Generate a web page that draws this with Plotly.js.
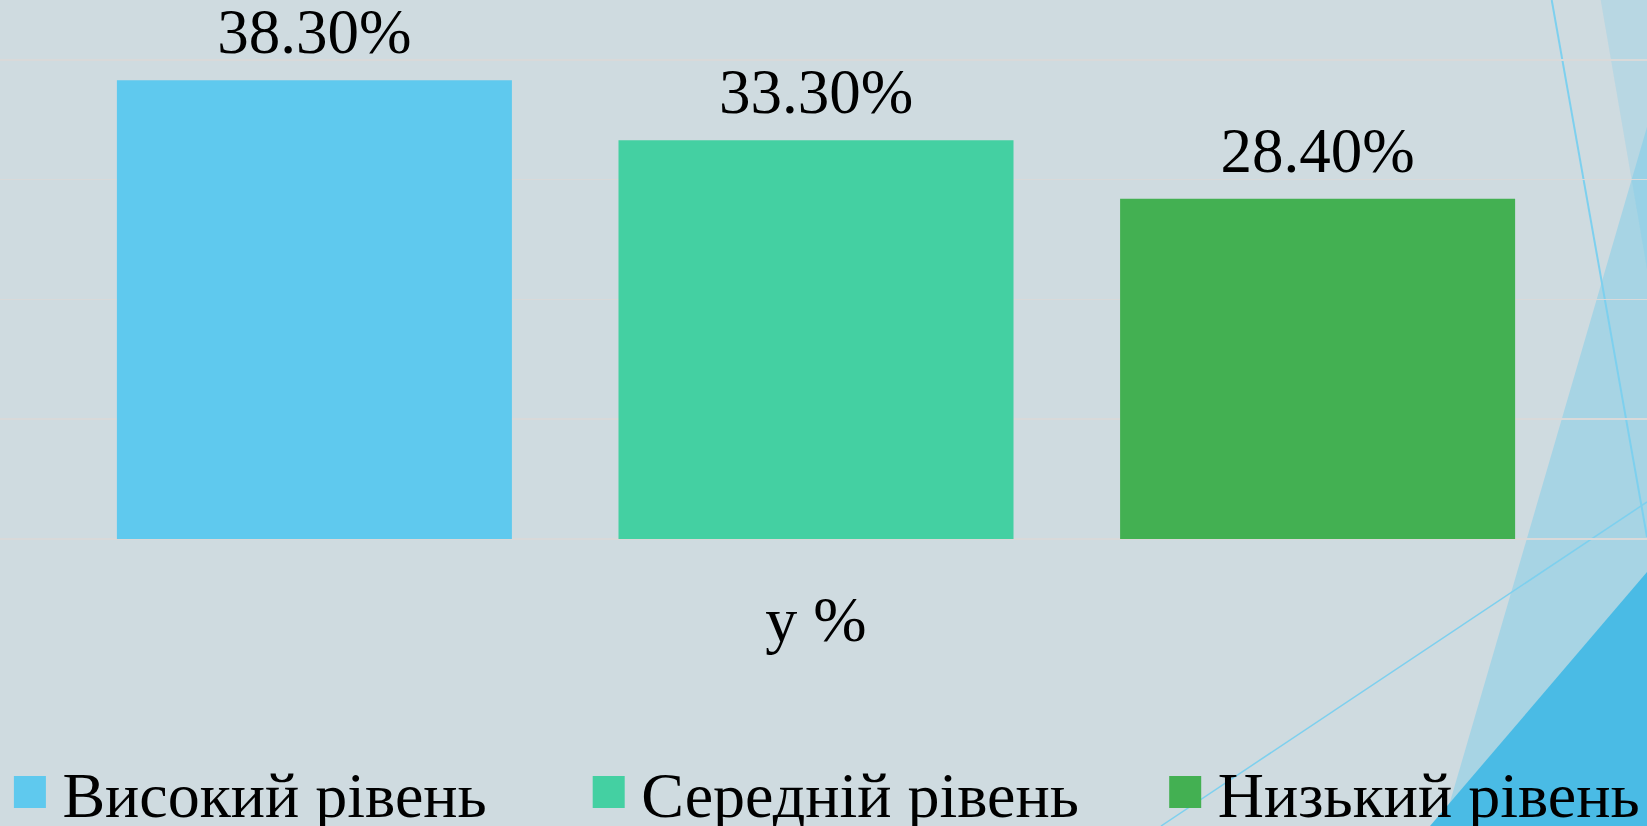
<!DOCTYPE html>
<html>
<head>
<meta charset="utf-8">
<script src="https://cdn.plot.ly/plotly-3.0.1.min.js"></script>
<style>
  html, body { margin: 0; padding: 0; background: #CFDBE0; }
  #chart { width: 1647px; height: 826px; }
</style>
</head>
<body>
<div id="chart"></div>
<script>
// ---- data ----
const categories = ["у %"];
const seriesNames = ["Високий рівень", "Середній рівень", "Низький рівень"];
const seriesValues = [[38.3], [33.3], [28.4]];
const seriesLabels = [["38.30%"], ["33.30%"], ["28.40%"]];
const seriesColors = ["#5FC9EE", "#44D0A2", "#43B052"];

// ---- layout constants ----
const W = 1647, H = 826;
const plotBottom = 539;          // pixel y of the value axis baseline
const FONT = "Liberation Serif, Times New Roman, serif";
const legendIds = ["legend", "legend2", "legend3"];
const legendXpx = [-2.6, 576.2, 1152.7];   // legend box left edges (px)

const traces = seriesNames.map((name, i) => ({
  type: "bar",
  name: name,
  legend: legendIds[i],
  x: categories,
  y: seriesValues[i],
  text: seriesLabels[i],
  textposition: "outside",
  textfont: { family: FONT, size: 63, color: "#000000" },
  constraintext: "none",
  cliponaxis: false,
  marker: { color: seriesColors[i], line: { width: 0 } },
  hoverinfo: "skip"
}));

// decorative background (slide theme facets), given in pixel space
function pp(x, y) { return [(x / W).toFixed(5), ((plotBottom - y) / plotBottom).toFixed(5)]; }
function poly(pts) {
  return pts.map((p, i) => { const q = pp(p[0], p[1]); return (i ? "L" : "M") + q[0] + "," + q[1]; }).join(" ") + " Z";
}
function seg(a, b) {
  const p = pp(a[0], a[1]), q = pp(b[0], b[1]);
  return "M" + p[0] + "," + p[1] + " L" + q[0] + "," + q[1];
}
const deco = [
  { type: "path", xref: "paper", yref: "paper", layer: "below", line: { width: 0 },
    fillcolor: "#A7D4E4", path: poly([[1647, 127], [1443, 826], [1647, 826]]) },
  { type: "path", xref: "paper", yref: "paper", layer: "below", line: { width: 0 },
    fillcolor: "rgba(109,201,237,0.225)", path: poly([[1600.7, 0], [1647, 0], [1647, 269]]) },
  { type: "path", xref: "paper", yref: "paper", layer: "below", line: { width: 0 },
    fillcolor: "#4ABBE5", path: poly([[1647, 572], [1430, 826], [1647, 826]]) },
  { type: "path", xref: "paper", yref: "paper", layer: "below",
    line: { color: "#7ED0EE", width: 2 }, path: seg([1551.7, 0], [1647, 537]) },
  { type: "path", xref: "paper", yref: "paper", layer: "below",
    line: { color: "#7ED0EE", width: 1.5 }, path: seg([1647, 502], [1161, 826]) }
];

// category axis: one category, three grouped series
const slotPx = 501.6, centerPx = 816;
const k = slotPx * 3; // px per category unit (bargap 0)
const xRange = [-centerPx / k, (W - centerPx) / k];

const layout = {
  width: W, height: H,
  margin: { l: 0, r: 0, t: 0, b: H - plotBottom, pad: 0, autoexpand: false },
  paper_bgcolor: "#CFDBE0",
  plot_bgcolor: "rgba(0,0,0,0)",
  barmode: "group",
  bargap: 0,
  bargroupgap: 0.2125,
  font: { family: FONT, color: "#000000" },
  showlegend: true,
  xaxis: {
    type: "category",
    range: xRange,
    showgrid: false, zeroline: false, showline: false,
    ticks: "",
    tickfont: { family: FONT, size: 64, color: "#000000" },
    ticklabelstandoff: 37,
    fixedrange: true
  },
  yaxis: {
    range: [0, 45],
    tick0: 0, dtick: 10,
    showgrid: true, gridcolor: "#D9D9D9", gridwidth: 1.5,
    zeroline: true, zerolinecolor: "#D9D9D9", zerolinewidth: 1.5,
    showticklabels: false, ticks: "",
    fixedrange: true
  },
  shapes: deco
};
legendIds.forEach((id, i) => {
  layout[id] = {
    orientation: "h",
    x: legendXpx[i] / W, xanchor: "left",
    y: (plotBottom - 744) / plotBottom, yanchor: "top",
    font: { family: FONT, size: 64, color: "#000000" },
    bgcolor: "rgba(0,0,0,0)",
    itemwidth: 55,
    itemclick: false, itemdoubleclick: false
  };
});

Plotly.newPlot("chart", traces, layout, { displayModeBar: false, staticPlot: true }).then(gd => {
  // enlarge the legend swatches to match the reference
  gd.querySelectorAll(".legendpoints path").forEach(p => {
    p.setAttribute("d", "M16,16H-16V-16H16Z");
  });
  // lift the value labels slightly (reference sits them closer to the bar tops' label line)
  gd.querySelectorAll(".bartext").forEach(t => {
    const tr = t.getAttribute("transform") || "";
    t.setAttribute("transform", "translate(0,-10) " + tr);
  });
});
</script>
</body>
</html>
